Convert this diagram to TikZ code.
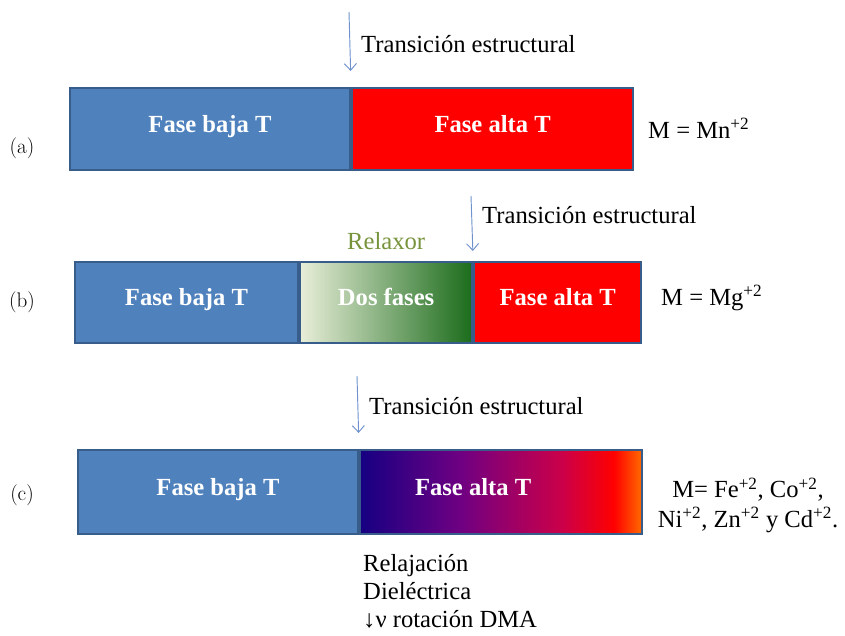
\documentclass[tikz,border=0pt]{standalone}
\usepackage{fontspec}
\newfontfamily\garafont{Liberation Serif}
\usetikzlibrary{positioning,arrows.meta,calc}

\definecolor{azulf}{RGB}{79,129,189}
\definecolor{bordec}{RGB}{56,93,138}
\definecolor{flechac}{RGB}{110,146,204}
\definecolor{relaxc}{RGB}{119,147,60}
\definecolor{verdeclaro}{RGB}{232,238,216}
\definecolor{verdeosc}{RGB}{28,108,28}
\definecolor{navyc}{RGB}{22,0,130}
\definecolor{purpc}{RGB}{112,0,130}
\definecolor{crimc}{RGB}{204,0,72}
\definecolor{orangec}{RGB}{255,108,0}

% shading for the high T phase in (c)
\pgfdeclarehorizontalshading{altaT}{100bp}{color(0bp)=(navyc); color(25bp)=(navyc);
  color(43bp)=(purpc); color(61bp)=(crimc); color(70bp)=(red); color(75bp)=(orangec);
  color(100bp)=(orangec)}

\begin{document}
\begin{tikzpicture}[
    x=0.03cm, y=-0.03cm,
    fasebox/.style={draw=bordec, line width=1.8pt, inner sep=0pt, text=white,
      text height=2.2ex, text depth=0.9ex,
      font=\garafont\bfseries\fontsize{21}{25}\selectfont},
    bajabox/.style={fasebox, fill=azulf},
    altabox/.style={fasebox, fill=red},
    txt/.style={font=\garafont\fontsize{21}{25}\selectfont, inner sep=0pt},
    etiq/.style={font=\fontsize{18}{22}\selectfont, inner sep=0pt},
    flecha/.style={draw=flechac, line width=0.8pt, -{Straight Barb[length=2mm,width=3.6mm]}}
]
\useasboundingbox (0,0) rectangle (845,635);

% (a) M = Mn
\node[bajabox, minimum width=8.4cm, minimum height=2.46cm] (bajaA) at (210,129) {Fase baja T};
\node[altabox, minimum width=8.43cm, minimum height=2.46cm, right=0pt of bajaA] (altaA) {Fase alta T};
\node[etiq] (etA) at (22,148) {(a)};
\node[txt, anchor=west] (mA) at (648,128) {M = Mn\textsuperscript{+2}};
\coordinate (tA) at (349,12);
\draw[flecha, shorten >=0.48cm] (tA) -- (bajaA.north east);
\node[txt, anchor=west] (trA) at (361,44) {Transición estructural};

% (b) M = Mg
\node[bajabox, minimum width=6.69cm, minimum height=2.43cm] (bajaB) at (186.5,302.5) {Fase baja T};
\node[fasebox, left color=verdeclaro, right color=verdeosc, minimum width=5.16cm,
  minimum height=2.43cm, right=0pt of bajaB] (dosB) {Dos fases};
\node[altabox, minimum width=5.01cm, minimum height=2.43cm, right=0pt of dosB] (altaB) {Fase alta T};
\node[txt, text=relaxc, above=0.34cm of dosB] (relax) {Relaxor};
\node[etiq] (etB) at (22,302) {(b)};
\node[txt, anchor=west] (mB) at (661,298) {M = Mg\textsuperscript{+2}};
\coordinate (tB) at (471,196);
\draw[flecha, shorten >=0.3cm] (tB) -- (altaB.north west);
\node[txt, anchor=west] (trB) at (482,215) {Transición estructural};

% (c) M = Fe, Co, Ni, Zn, Cd
\node[bajabox, minimum width=8.4cm, minimum height=2.52cm] (bajaC) at (218,492) {Fase baja T};
\node[fasebox, shading=altaT, minimum width=8.46cm, minimum height=2.52cm, right=0pt of bajaC,
  label={[fasebox, draw=none, xshift=-0.84cm]center:Fase alta T}] (altaC) {};
\node[etiq] (etC) at (22,495) {(c)};
\node[txt, align=center] (mC) at (748,505) {M= Fe\textsuperscript{+2}, Co\textsuperscript{+2},\\
  Ni\textsuperscript{+2}, Zn\textsuperscript{+2} y Cd\textsuperscript{+2}.};
\coordinate (tC) at (357,376);
\draw[flecha, shorten >=0.48cm] (tC) -- (altaC.north west);
\node[txt, align=left, anchor=north west, font=\garafont\fontsize{21}{24}\selectfont] (relaj) at (363,554)
  {Relajación\\Dieléctrica\\↓ν rotación DMA};
\node[txt, anchor=west] (trC) at (369,406) {Transición estructural};
\end{tikzpicture}
\end{document}
